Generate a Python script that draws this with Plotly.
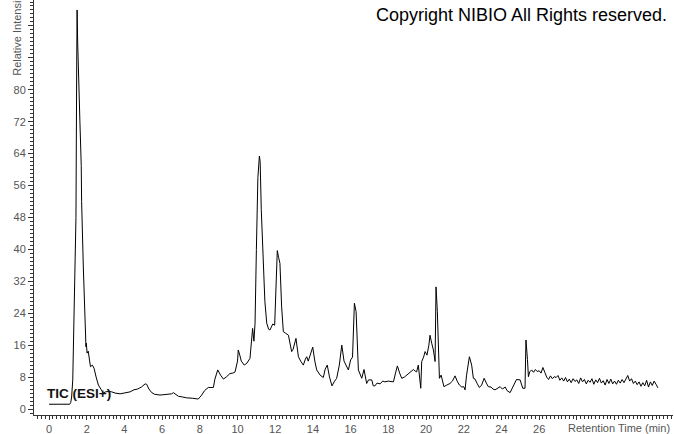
import plotly.graph_objects as go

# Retention time (min) and relative intensity of the TIC trace
time_main = [0, 0.5, 1.0, 1.1, 1.15, 1.2, 1.26, 1.32, 1.38, 1.43, 1.47, 1.49, 1.52, 1.55, 1.59, 1.64,
             1.71, 1.73, 1.82, 1.91, 1.96, 1.98, 2.02, 2.08, 2.2, 2.3, 2.39, 2.5, 2.62, 2.75, 2.88,
             3.0, 3.15, 3.33, 3.5, 3.77, 4.0, 4.3, 4.5, 4.7, 4.9, 5.1, 5.18, 5.3, 5.45, 5.6, 5.89,
             6.2, 6.5, 6.6, 6.86, 7.1, 7.3, 7.6, 7.92, 8.1, 8.25, 8.45, 8.6, 8.72, 8.8, 8.95, 9.1,
             9.25, 9.4, 9.6, 9.75, 9.87,
             10.0, 10.04, 10.12, 10.2, 10.36, 10.5, 10.66, 10.75, 10.8, 10.87, 10.93, 11.0, 11.08,
             11.16, 11.2, 11.26, 11.37, 11.45, 11.55, 11.65, 11.72, 11.8, 11.87, 11.97, 12.05, 12.11,
             12.18, 12.25, 12.34, 12.43, 12.55, 12.7, 12.87, 12.95, 13.1, 13.23, 13.35, 13.49, 13.6,
             13.67, 13.75, 13.85, 13.99, 14.1, 14.2, 14.38, 14.55, 14.65, 14.76, 14.88, 15.01, 15.15,
             15.26, 15.4, 15.53, 15.65, 15.79, 15.88, 16.0, 16.1, 16.2, 16.29, 16.41, 16.5, 16.59,
             16.71, 16.85, 16.95, 17.12, 17.2, 17.29, 17.4, 17.56, 17.7, 17.82, 18.0, 18.15, 18.27,
             18.38, 18.48, 18.6, 18.71, 18.85, 18.98, 19.1, 19.2, 19.33, 19.42, 19.5, 19.59, 19.72,
             19.77, 19.87, 19.95, 20.05, 20.15, 20.21, 20.3, 20.39, 20.48, 20.53, 20.6, 20.71, 20.8,
             20.95, 21.1, 21.27, 21.4, 21.54, 21.65, 21.77, 21.9, 22.0, 22.07, 22.15, 22.3, 22.36,
             22.42, 22.51, 22.6, 22.7, 22.83, 22.95, 23.08, 23.2, 23.3, 23.45, 23.55, 23.66, 23.8,
             23.93, 24.05, 24.2, 24.3, 24.46, 24.55, 24.7, 24.8, 24.99, 25.13, 25.25, 25.3, 25.38,
             25.43]
intensity_main = [1.2, 1.2, 1.2, 1.2, 1.6, 3.0, 7.3, 20, 35, 48, 87, 100, 92, 88, 80, 72,
                  61, 52, 35.6, 19, 15.6, 16.5, 14, 14.5, 10.6, 11, 10.2, 8, 6, 5, 4.0,
                  4.3, 4.4, 4.3, 4.0, 3.8, 4.0, 4.3, 4.8, 5.0, 5.5, 6.3, 6.2, 5.0, 4.1, 3.7, 3.5,
                  3.7, 3.8, 4.1, 3.2, 3.0, 2.8, 2.7, 2.5, 3.5, 4.6, 5.4, 5.3, 5.4, 7.5, 9.8, 8.5,
                  7.5, 8.0, 8.9, 9.0, 9.3,
                  12, 14.8, 13.5, 12, 11, 11.5, 12.7, 17, 20.2, 17, 21.5, 40, 58,
                  63.4, 62, 50, 36.5, 27, 21.5, 20, 19.8, 20.5, 21.3, 21, 32, 39.7,
                  38, 36.5, 25.6, 19.4, 19, 18.5, 14.4, 15, 17.7, 13.1, 12, 11, 12.5,
                  13.1, 12, 13.5, 15.5, 12, 9.8, 8.5, 7.9, 10, 11, 8, 5.8, 7,
                  7.7, 11, 16, 12, 10.6, 9.8, 12.3, 13, 26.5, 24.4, 9.8, 8.5, 7.7,
                  9.9, 6.4, 7.3, 7.3, 5.8, 5.8, 6.5, 6.3, 7, 6.8, 7, 6.9, 6.8,
                  9, 10.8, 9, 7.7, 8, 8.5, 9.2, 9.5, 9.9, 9.5, 9.3, 11, 5.2,
                  11.9, 13, 14.4, 13.5, 16, 18.5, 16.5, 14.8, 11.9, 30.6, 24.4, 7.7, 8.5,
                  5.6, 6, 6.4, 7, 8.3, 7, 6, 5.5, 5.6, 4.8, 8.5, 13.1, 12,
                  11, 7.7, 7.5, 6.5, 5.4, 6, 7.7, 6.5, 5.6, 5.5, 5, 4.8, 5.3,
                  5.6, 5, 5.5, 4.6, 4.1, 5, 6.5, 7.4, 7.3, 5.2, 5.2, 17.3, 12.4,
                  8.1]

time_tail = [25.5, 25.6, 25.7, 25.8, 25.9, 26.0, 26.1, 26.2, 26.3, 26.4, 26.5, 26.6, 26.7, 26.8,
             26.9, 27.0, 27.1, 27.2, 27.3, 27.4, 27.5, 27.6, 27.7, 27.8, 27.9, 28.0, 28.1, 28.2,
             28.3, 28.4, 28.5, 28.6, 28.7, 28.8, 28.9, 29.0, 29.1, 29.2, 29.3, 29.4, 29.5, 29.6,
             29.7, 29.8, 29.9, 30.0, 30.1, 30.2, 30.3, 30.4, 30.5, 30.6, 30.7, 30.8, 30.9, 31.0,
             31.1, 31.2, 31.3, 31.4, 31.5, 31.6, 31.7, 31.8, 31.9, 32.0, 32.1, 32.2, 32.3]
intensity_tail = [9.3, 9.8, 9.2, 9.9, 9.4, 9.6, 9.0, 10.4, 9.2, 8.0, 7.4, 8.3, 7.6, 8.1,
                  7.9, 8.4, 7.2, 7.8, 7.0, 7.9, 6.8, 7.5, 6.6, 7.6, 6.9, 7.3, 6.4, 7.8,
                  6.8, 7.4, 6.3, 7.2, 6.7, 7.6, 6.2, 7.3, 6.6, 7.7, 6.5, 7.1, 6.0, 7.4,
                  6.4, 7.5, 6.3, 7.0, 6.2, 7.2, 6.5, 7.4, 6.6, 7.6, 8.4, 7.0, 7.6, 6.4,
                  7.0, 6.1, 6.8, 5.7, 6.6, 5.8, 7.2, 5.5, 6.8, 5.9, 7.0, 6.2, 5.3]

x_tick_vals = [0, 2, 4, 6, 8, 10, 12, 14, 16, 18, 20, 22, 24, 26, 28, 30, 32]
x_tick_text = ["0", "2", "4", "6", "8", "10", "12", "14", "16", "18", "20", "22", "24", "26", "", "", ""]
y_tick_vals = [0, 8, 16, 24, 32, 40, 48, 56, 64, 72, 80, 88, 96]
y_tick_text = ["0", "8", "16", "24", "32", "40", "48", "56", "64", "72", "80", "", ""]

time_all = time_main + time_tail
intensity_all = intensity_main + intensity_tail

fig = go.Figure()
fig.add_trace(go.Scatter(x=time_all, y=intensity_all, mode="lines",
                         line=dict(color="black", width=1), hoverinfo="skip"))

tick_font = dict(family="Liberation Sans, Arial, sans-serif", size=11, color="#555555")

fig.update_layout(
    width=674, height=434,
    margin=dict(l=34, r=1, t=0, b=19, autoexpand=False),
    paper_bgcolor="white", plot_bgcolor="white",
    showlegend=False,
    xaxis=dict(range=[-0.796, 33.1], showgrid=False, zeroline=False, automargin=False,
               showline=True, linecolor="#333333", linewidth=1,
               ticks="outside", ticklen=4, tickcolor="#333333",
               tickvals=x_tick_vals, ticktext=x_tick_text, tickfont=tick_font,
               minor=dict(dtick=0.2, ticks="outside", ticklen=3, tickcolor="#333333"),
               fixedrange=True),
    yaxis=dict(range=[-1.5, 102.5], showgrid=False, zeroline=False, automargin=False,
               showline=True, linecolor="#333333", linewidth=1,
               ticks="outside", ticklen=5, tickcolor="#333333",
               tickvals=y_tick_vals, ticktext=y_tick_text, tickfont=tick_font,
               minor=dict(dtick=1, ticks="outside", ticklen=3, tickcolor="#333333"),
               fixedrange=True),
    annotations=[
        dict(text="Copyright NIBIO All Rights reserved.", xref="paper", yref="paper",
             x=1.0, y=1.0, xanchor="right", yanchor="top", xshift=-4, yshift=-3,
             showarrow=False, font=dict(family="Liberation Sans, Arial, sans-serif", size=18, color="black")),
        dict(text="<b>TIC (ESI+)</b>", xref="paper", yref="paper",
             x=0.0704, y=0.0529, xanchor="center", yanchor="middle",
             showarrow=False, font=dict(family="Liberation Sans, Arial, sans-serif", size=13.5, color="#111111")),
        dict(text="Relative Intensity", xref="paper", yref="paper",
             x=0, y=0.8125, xanchor="center", yanchor="bottom", xshift=-17, textangle=-90,
             showarrow=False, font=tick_font),
        dict(text="Retention Time (min)", xref="paper", yref="paper",
             x=1.0, y=-0.0288, xanchor="right", yanchor="middle", xshift=-1, yshift=-1,
             showarrow=False, font=tick_font),
    ],
)

fig.write_html("out.html", config={"displayModeBar": False},
               post_script="document.body.style.margin='0';document.body.style.padding='0';")
